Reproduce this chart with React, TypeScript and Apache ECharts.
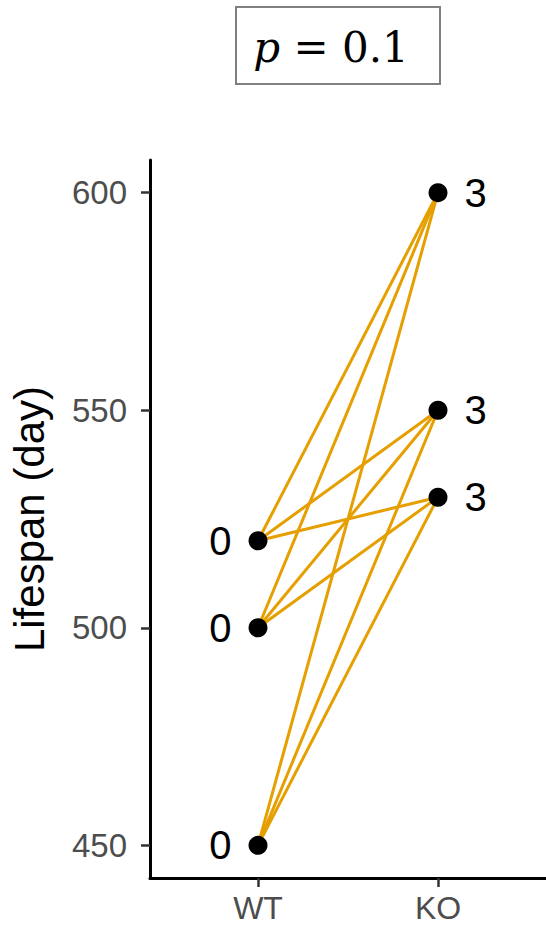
import React, { useEffect, useRef } from "react";
import * as echarts from "echarts";

// Lifespan (days) of each animal per genotype
const genotypes = ["WT", "KO"];
const wtLifespan = [520, 500, 450];
const koLifespan = [600, 550, 530];
const wtLabels = ["0", "0", "0"];
const koLabels = ["3", "3", "3"];
const yTicks = [450, 500, 550, 600];
const pValue = "0.1";

const FONT = "Liberation Sans, Arial, sans-serif";
const SERIF = "DejaVu Serif, Liberation Serif, serif";
const LINE_COLOR = "#E69F00";

export default function App() {
  const ref = useRef<HTMLDivElement>(null);

  useEffect(() => {
    if (!ref.current) return;
    const chart = echarts.init(ref.current, null, { renderer: "svg" });

    // every WT animal paired with every KO animal
    const pairSeries: any[] = [];
    wtLifespan.forEach((w, i) => {
      koLifespan.forEach((k, j) => {
        pairSeries.push({
          type: "line",
          name: `pair-${i}-${j}`,
          data: [
            [1, w],
            [2, k],
          ],
          symbol: "none",
          lineStyle: { color: LINE_COLOR, width: 3, opacity: 1 },
          silent: true,
          z: 2,
        });
      });
    });

    const pointLabel = {
      show: true,
      distance: 17,
      color: "#000",
      fontSize: 40,
      fontFamily: FONT,
    };

    chart.setOption({
      animation: false,
      backgroundColor: "#ffffff",
      grid: { left: 146, top: 160, width: 405, height: 718, containLabel: false },
      xAxis: {
        type: "value",
        min: 0.4,
        max: 2.6,
        interval: 1,
        axisLine: { show: true, lineStyle: { color: "#000", width: 3 } },
        axisTick: {
          show: true,
          length: 9,
          lineStyle: { color: "#333", width: 2.5 },
          customValues: [1, 2],
        },
        axisLabel: {
          customValues: [1, 2],
          formatter: (v: number) => genotypes[Math.round(v) - 1] ?? "",
          color: "#4d4d4d",
          fontSize: 32,
          lineHeight: 32,
          fontFamily: FONT,
          margin: 14,
        },
        splitLine: { show: false },
      },
      yAxis: {
        type: "value",
        min: 442.5,
        max: 607.5,
        name: "Lifespan (day)",
        nameLocation: "middle",
        nameGap: 100,
        nameTextStyle: { color: "#000", fontSize: 42, fontFamily: FONT },
        axisLine: { show: true, lineStyle: { color: "#000", width: 3 } },
        axisTick: {
          show: true,
          length: 9,
          lineStyle: { color: "#333", width: 2.5 },
          customValues: yTicks,
        },
        axisLabel: {
          customValues: yTicks,
          color: "#4d4d4d",
          fontSize: 33,
          fontFamily: FONT,
          margin: 23,
        },
        splitLine: { show: false },
      },
      graphic: [
        {
          type: "rect",
          shape: { x: 236, y: 7, width: 204, height: 77 },
          style: { fill: "#fff", stroke: "#808080", lineWidth: 2 },
        },
        {
          type: "text",
          x: 331,
          y: 47,
          style: {
            text: `{p|p} = ${pValue}`,
            align: "center",
            verticalAlign: "middle",
            fontFamily: SERIF,
            fontSize: 42,
            fill: "#000",
            rich: {
              p: {
                fontStyle: "italic",
                fontFamily: SERIF,
                fontSize: 42,
                fill: "#000",
              },
            },
          },
        },
      ],
      series: [
        ...pairSeries,
        {
          type: "scatter",
          name: "WT",
          data: wtLifespan.map((v, i) => ({ value: [1, v], label: { formatter: wtLabels[i] } })),
          symbolSize: 19,
          itemStyle: { color: "#000", opacity: 1 },
          label: { ...pointLabel, position: "left" },
          z: 3,
        },
        {
          type: "scatter",
          name: "KO",
          data: koLifespan.map((v, i) => ({ value: [2, v], label: { formatter: koLabels[i] } })),
          symbolSize: 19,
          itemStyle: { color: "#000", opacity: 1 },
          label: { ...pointLabel, position: "right" },
          z: 3,
        },
      ],
    });

    return () => chart.dispose();
  }, []);

  return (
    <div
      ref={ref}
      style={{ position: "absolute", left: 0, top: 0, width: 546, height: 927 }}
    />
  );
}
